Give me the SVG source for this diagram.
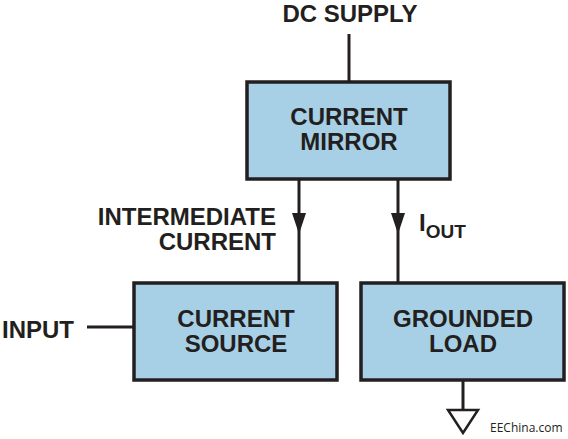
<svg xmlns="http://www.w3.org/2000/svg" width="568" height="439" viewBox="0 0 568 439">
<style>
.box{fill:#a7d0e6;stroke:#231f20;stroke-width:3.5}
.w{stroke:#231f20;stroke-width:3;fill:none}
.t{font-family:"Liberation Sans",Arial,sans-serif;font-weight:bold;font-size:24px;fill:#231f20}
.c{text-anchor:middle}
.ah{fill:#231f20}
</style>
<rect width="568" height="439" fill="#ffffff"/>
<g id="connectors">
<line class="w" x1="349" y1="34" x2="349" y2="82"/>
<line class="w" x1="299" y1="179" x2="299" y2="283"/>
<polygon class="ah" points="292,213 306,213 299,234"/>
<line class="w" x1="398" y1="179" x2="398" y2="283"/>
<polygon class="ah" points="391,213 405,213 398,234"/>
<line class="w" x1="87" y1="327" x2="133" y2="327"/>
<line class="w" x1="463" y1="381" x2="463" y2="410"/>
<polygon points="448,410 478,410 463,433" fill="#ffffff" stroke="#231f20" stroke-width="2.5"/>
</g>
<g id="dc-supply"><text class="t c" x="350" y="22">DC SUPPLY</text></g>
<g id="current-mirror">
<rect class="box" x="247" y="82" width="203" height="97"/>
<text class="t c" x="349" y="125">CURRENT</text>
<text class="t c" x="349" y="150">MIRROR</text>
</g>
<g id="intermediate-label">
<text class="t" x="276" y="225" text-anchor="end">INTERMEDIATE</text>
<text class="t" x="276" y="250" text-anchor="end">CURRENT</text>
</g>
<g id="iout-label">
<text class="t" x="419" y="231">I<tspan font-size="19" dy="7">OUT</tspan></text>
</g>
<g id="input"><text class="t" x="2" y="338">INPUT</text></g>
<g id="current-source">
<rect class="box" x="134" y="283" width="203" height="97"/>
<text class="t c" x="236" y="327">CURRENT</text>
<text class="t c" x="236" y="352">SOURCE</text>
</g>
<g id="grounded-load">
<rect class="box" x="361" y="283" width="203" height="97"/>
<text class="t c" x="463" y="327">GROUNDED</text>
<text class="t c" x="463" y="352">LOAD</text>
</g>
<g id="watermark"><text x="490" y="432" font-family="'Open Sans','Liberation Sans',sans-serif" font-size="12" fill="#231f20">EEChina.com</text></g>
</svg>
